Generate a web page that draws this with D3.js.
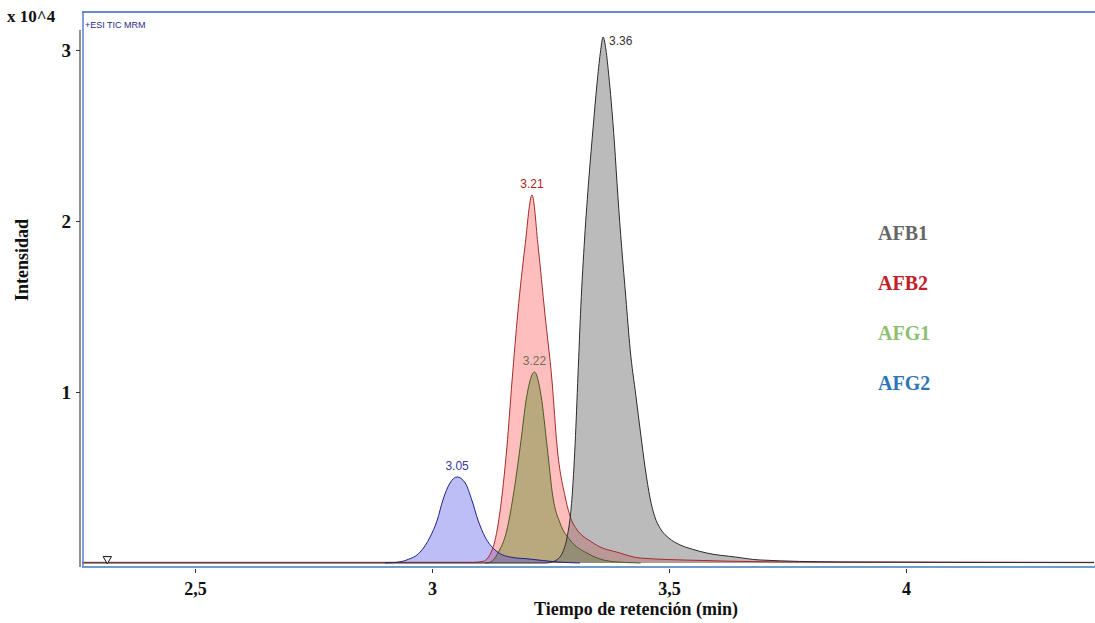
<!DOCTYPE html>
<html><head><meta charset="utf-8">
<script src="https://cdn.jsdelivr.net/npm/d3@7"></script>
<style>body{margin:0;background:#fff}svg{display:block}</style>
</head><body>
<svg id="c" width="1095" height="623"></svg>
<script>
// ---- data (intensity in x10^4, time in min) ----
const seriesNames = ["AFB2", "AFG1", "AFG2", "AFB1"];
const timeAFB1 = [2.262, 3.240, 3.252, 3.264, 3.276, 3.285, 3.295, 3.302, 3.308, 3.314, 3.322, 3.331, 3.340, 3.348, 3.355, 3.361, 3.367, 3.373, 3.378, 3.385, 3.392, 3.400, 3.409, 3.418, 3.430, 3.440, 3.450, 3.460, 3.470, 3.482, 3.500, 3.520, 3.550, 3.580, 3.640, 3.690, 3.860, 4.397];
const valAFB1  = [0.000, 0.000, 0.006, 0.020, 0.065, 0.150, 0.370, 0.700, 1.100, 1.500, 1.900, 2.250, 2.550, 2.800, 2.980, 3.076, 3.000, 2.850, 2.700, 2.450, 2.150, 1.850, 1.550, 1.250, 0.980, 0.760, 0.550, 0.380, 0.270, 0.200, 0.145, 0.110, 0.080, 0.058, 0.035, 0.018, 0.006, 0.002];
const timeAFB2 = [2.262, 3.086, 3.108, 3.129, 3.143, 3.158, 3.169, 3.181, 3.196, 3.211, 3.224, 3.238, 3.253, 3.264, 3.281, 3.297, 3.340, 3.397, 3.439, 3.565, 3.776, 4.397];
const valAFB2  = [0.004, 0.004, 0.010, 0.094, 0.292, 0.678, 1.070, 1.462, 1.848, 2.152, 1.848, 1.462, 1.070, 0.678, 0.386, 0.234, 0.117, 0.058, 0.029, 0.015, 0.006, 0.004];
const timeAFG1 = [3.112, 3.122, 3.139, 3.158, 3.171, 3.186, 3.200, 3.216, 3.230, 3.243, 3.255, 3.270, 3.291, 3.327, 3.376, 3.440];
const valAFG1  = [0.000, 0.004, 0.058, 0.193, 0.386, 0.678, 0.977, 1.117, 0.980, 0.678, 0.386, 0.234, 0.135, 0.058, 0.010, 0.000];
const timeAFG2 = [2.901, 2.918, 2.947, 2.975, 2.996, 3.011, 3.023, 3.038, 3.053, 3.070, 3.084, 3.097, 3.112, 3.133, 3.165, 3.207, 3.264, 3.312];
const valAFG2  = [0.000, 0.002, 0.018, 0.064, 0.152, 0.251, 0.368, 0.468, 0.503, 0.468, 0.368, 0.251, 0.152, 0.076, 0.035, 0.023, 0.006, 0.000];
const peakLabels = ["3.21", "3.22", "3.05", "3.36"];
const xTicks = [2.5, 3, 3.5, 4];
const xTickLabels = ["2,5", "3", "3,5", "4"];
const yTicks = [1, 2, 3];
const yTickLabels = ["1", "2", "3"];
const legendNames = ["AFB1", "AFB2", "AFG1", "AFG2"];

// ---- styles ----
const style = {
  AFB2: {fill: "rgba(255,40,40,0.30)", stroke: "#a52a2a", label: "#b22222"},
  AFG1: {fill: "rgba(90,140,40,0.42)", stroke: "#4a5a22", label: "#707055"},
  AFG2: {fill: "rgba(40,40,225,0.30)", stroke: "#1f1f8a", label: "#3a3a9a"},
  AFB1: {fill: "rgba(110,110,110,0.47)", stroke: "#2b2b2b", label: "#333333"}
};
const legendColors = ["#666666", "#c0202a", "#8cc070", "#2e75b6"];

const series = {
  AFB1: timeAFB1.map((t, i) => ({t, v: valAFB1[i]})),
  AFB2: timeAFB2.map((t, i) => ({t, v: valAFB2[i]})),
  AFG1: timeAFG1.map((t, i) => ({t, v: valAFG1[i]})),
  AFG2: timeAFG2.map((t, i) => ({t, v: valAFG2[i]}))
};

const L = 82, R = 1094, T = 12, B = 567;
const x = d3.scaleLinear().domain([2.2616, 4.3966]).range([L, R]);
const y = d3.scaleLinear().domain([-0.0234, 3.222]).range([B, T]);

const svg = d3.select("#c");
const serif = "'Liberation Serif','Times New Roman',serif";
const sans = "'Liberation Sans',Arial,sans-serif";

svg.append("defs").append("clipPath").attr("id", "clip")
  .append("rect").attr("x", L).attr("y", T).attr("width", R - L).attr("height", B - T);

const area = d3.area().x(d => x(d.t)).y0(y(0)).y1(d => y(d.v)).curve(d3.curveMonotoneX);
const line = d3.line().x(d => x(d.t)).y(d => y(d.v)).curve(d3.curveMonotoneX);

const g = svg.append("g").attr("clip-path", "url(#clip)");
seriesNames.forEach(n => {
  g.append("path").datum(series[n]).attr("d", area).attr("fill", style[n].fill);
});
seriesNames.forEach(n => {
  g.append("path").datum(series[n]).attr("d", line).attr("fill", "none")
    .attr("stroke", style[n].stroke).attr("stroke-width", 1);
});

// peak labels
seriesNames.forEach((n, i) => {
  const pk = series[n].reduce((a, b) => b.v > a.v ? b : a);
  const isB1 = n === "AFB1";
  svg.append("text").text(peakLabels[i])
    .attr("x", isB1 ? x(pk.t) + 6 : x(pk.t))
    .attr("y", isB1 ? y(pk.v) + 8 : y(pk.v) - 7)
    .attr("text-anchor", isB1 ? "start" : "middle")
    .attr("font-family", sans).attr("font-size", 12)
    .attr("fill", style[n].label).text(peakLabels[i]);
});

// frame
svg.append("line").attr("x1", L).attr("x2", R + 1).attr("y1", T).attr("y2", T).attr("stroke", "#3a5fc0").attr("stroke-width", 1.5);
svg.append("line").attr("x1", L + 1).attr("x2", L + 1).attr("y1", T).attr("y2", B).attr("stroke", "#5a7fd0").attr("stroke-width", 1.5);
svg.append("line").attr("x1", L - 2).attr("x2", L - 2).attr("y1", 30).attr("y2", B).attr("stroke", "#222").attr("stroke-width", 1);
svg.append("line").attr("x1", L).attr("x2", R + 1).attr("y1", B).attr("y2", B).attr("stroke", "#6f9cc8").attr("stroke-width", 2);

// axes
const xAxis = d3.axisBottom(x).tickValues(xTicks).tickSize(4).tickFormat((d, i) => xTickLabels[i]);
const xa = svg.append("g").attr("transform", `translate(0,${B + 2})`).call(xAxis);
xa.select(".domain").remove();
xa.selectAll("line").attr("stroke", "#333");
xa.selectAll("text").attr("font-family", serif).attr("font-weight", "bold").attr("font-size", 18).attr("fill", "#111").attr("dy", "1.05em");

const yAxis = d3.axisLeft(y).tickValues(yTicks).tickSize(4).tickFormat((d, i) => yTickLabels[i]);
const ya = svg.append("g").attr("transform", `translate(${L - 2},0)`).call(yAxis);
ya.select(".domain").remove();
ya.selectAll("line").attr("stroke", "#333");
ya.selectAll("text").attr("font-family", serif).attr("font-weight", "bold").attr("font-size", 19).attr("fill", "#111").attr("x", -9);

// texts
svg.append("text").attr("x", 7).attr("y", 22).text("x 10^4")
  .attr("font-family", serif).attr("font-weight", "bold").attr("font-size", 17).attr("fill", "#111");
svg.append("text").attr("x", 85).attr("y", 28).text("+ESI TIC MRM")
  .attr("font-family", sans).attr("font-size", 9).attr("fill", "#2a2a8a");
svg.append("text").attr("transform", "translate(28,260) rotate(-90)").attr("text-anchor", "middle")
  .text("Intensidad").attr("font-family", serif).attr("font-weight", "bold").attr("font-size", 18).attr("fill", "#111");
svg.append("text").attr("x", 636).attr("y", 615).attr("text-anchor", "middle")
  .text("Tiempo de retención (min)").attr("font-family", serif).attr("font-weight", "bold").attr("font-size", 18).attr("fill", "#111");

// marker triangle
svg.append("path").attr("d", d3.symbol().type(d3.symbolTriangle).size(30)())
  .attr("transform", `translate(${x(2.315)},${y(0) - 4}) rotate(180)`)
  .attr("fill", "#fff").attr("stroke", "#111").attr("stroke-width", 1);

// legend
legendNames.forEach((n, i) => {
  svg.append("text").attr("x", 878).attr("y", 240 + i * 50).text(n)
    .attr("font-family", serif).attr("font-weight", "bold").attr("font-size", 20).attr("fill", legendColors[i]);
});
</script>
</body></html>
